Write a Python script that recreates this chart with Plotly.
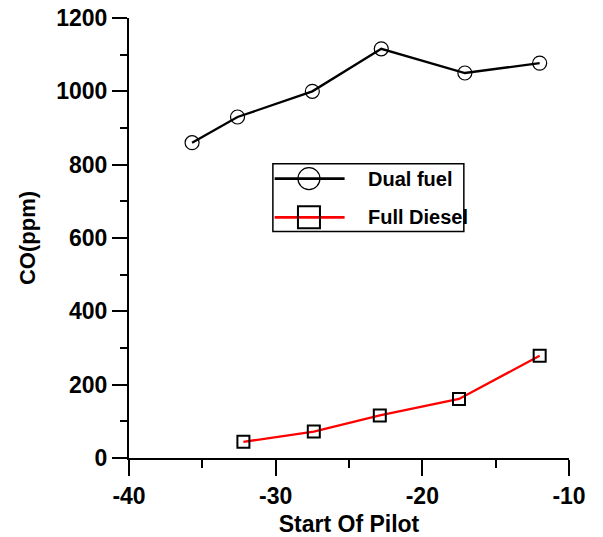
import plotly.graph_objects as go

# Start of pilot injection (deg) and CO emissions (ppm)
dual_x = [-35.7, -32.6, -27.5, -22.8, -17.1, -12.0]
dual_co = [860, 930, 1000, 1116, 1050, 1077]

diesel_x = [-32.2, -27.4, -22.9, -17.5, -12.0]
diesel_co = [44, 72, 116, 161, 279]

x_ticks = [-40, -30, -20, -10]
x_ticktext = ["-40", "-30", "-20", "-10"]
y_ticks = [0, 200, 400, 600, 800, 1000, 1200]

series_names = ["Dual fuel", "Full Diesel"]
series_colors = ["black", "#ff0000"]

FONT = "Liberation Sans, Arial, sans-serif"

fig = go.Figure()

fig.add_trace(go.Scatter(
    x=dual_x, y=dual_co, mode="lines+markers", name=series_names[0],
    line=dict(color=series_colors[0], width=2.3),
    marker=dict(symbol="circle-open", size=14, color="black", line=dict(width=1.2)),
    showlegend=False,
))
fig.add_trace(go.Scatter(
    x=diesel_x, y=diesel_co, mode="lines+markers", name=series_names[1],
    line=dict(color=series_colors[1], width=2.3),
    marker=dict(symbol="square-open", size=12, color="black", line=dict(width=2)),
    showlegend=False,
))

axis_common = dict(
    showgrid=False, zeroline=False, showline=True, linecolor="black", linewidth=2,
    ticks="outside", tickcolor="black", tickwidth=2, automargin=False,
    tickfont=dict(family=FONT, size=23, color="black", weight="bold"),
)

fig.update_xaxes(
    range=[-40, -10], tickvals=x_ticks, ticktext=x_ticktext, ticklen=16,
    minor=dict(ticks="outside", ticklen=8, tickwidth=2, tickcolor="black", dtick=5, showgrid=False),
    title=dict(text="Start Of Pilot", font=dict(family=FONT, size=23, color="black", weight="bold")),
    **axis_common,
)
fig.update_yaxes(
    range=[0, 1200], tickvals=y_ticks, ticklen=15,
    minor=dict(ticks="outside", ticklen=7, tickwidth=2, tickcolor="black", dtick=100, showgrid=False),
    title=dict(text="CO(ppm)", font=dict(family=FONT, size=22, color="black", weight="bold")),
    **axis_common,
)

# Boxed legend drawn in plot-area (paper) coordinates
box = dict(x0=0.327, x1=0.761, y0=0.515, y1=0.669)
rows_y = [0.635, 0.547]
line_x = (0.331, 0.490)
sym_x = 0.409
text_x = 0.539

shapes = [dict(type="rect", xref="paper", yref="paper", layer="above",
               line=dict(color="black", width=1.5), fillcolor="white", **box)]
annotations = []
for i, (name, color, ry) in enumerate(zip(series_names, series_colors, rows_y)):
    shapes.append(dict(type="line", xref="paper", yref="paper", layer="above",
                       x0=line_x[0], x1=line_x[1], y0=ry, y1=ry,
                       line=dict(color=color, width=2.7)))
    shapes.append(dict(type="circle" if i == 0 else "rect", xref="paper", yref="paper",
                       layer="above", xsizemode="pixel", ysizemode="pixel",
                       xanchor=sym_x, yanchor=ry, x0=-11, x1=11, y0=-11, y1=11,
                       line=dict(color="black", width=1.2 if i == 0 else 2)))
    annotations.append(dict(x=text_x, y=ry, xref="paper", yref="paper",
                            text=name, showarrow=False, xanchor="left", yanchor="middle",
                            font=dict(family=FONT, size=20, color="black", weight="bold")))

fig.update_layout(
    width=603, height=537,
    margin=dict(l=129, r=34, t=18, b=79),
    plot_bgcolor="white", paper_bgcolor="white",
    showlegend=False,
    shapes=shapes, annotations=annotations,
)

fig.write_html("out.html")
